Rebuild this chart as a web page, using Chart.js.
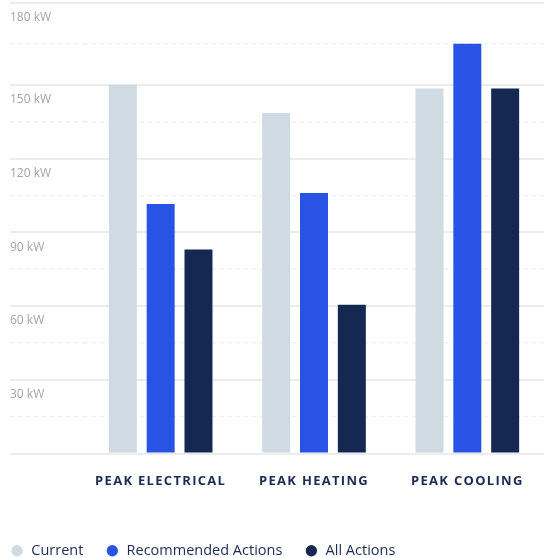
<!DOCTYPE html>
<html>
<head>
<meta charset="utf-8">
<script src="https://cdn.jsdelivr.net/npm/chart.js@4/dist/chart.umd.min.js"></script>
<style>
  html, body { margin: 0; padding: 0; background: #fff; }
  #wrap { width: 548px; height: 558px; }
</style>
</head>
<body>
<div id="wrap"><canvas id="peakChart" width="548" height="558"></canvas></div>
<script>
// chart data
const categories = ['PEAK ELECTRICAL', 'PEAK HEATING', 'PEAK COOLING'];
const currentValues = [150, 138.5, 148.5];
const recommendedValues = [101.5, 106, 166.7];
const allActionsValues = [83, 60.5, 148.5];

// y axis: solid lines with labels, dashed lines in between
const yMax = 183.3;
const tickValues = [0, 30, 60, 90, 120, 150, 183.3];
const tickLabels = ['', '30 kW', '60 kW', '90 kW', '120 kW', '150 kW', '180 kW'];
const minorValues = [15, 45, 75, 105, 135, 166.7];

const navy = '#1c2b55';

function isMinor(ctx) {
    return ctx.tick && minorValues.includes(ctx.tick.value);
}

// legend: a bit lower, and first item starts at the left edge
const legendFit = {
    id: 'legendFit',
    beforeInit(chart) {
        if (!chart.legend) return;
        const fit = chart.legend.fit;
        chart.legend.fit = function() {
            fit.call(this);
            this.height -= 10;
        };
    },
    afterLayout(chart) {
        if (!chart.legend) return;
        chart.legend.left -= 22;
        chart.legend.right -= 22;
    }
};

const ctx = document.getElementById('peakChart').getContext('2d');
const peakChart = new Chart(ctx, {
    type: 'bar',
    data: {
        labels: categories,
        datasets: [
            { label: 'Current', data: currentValues, backgroundColor: '#d0dae3' },
            { label: 'Recommended Actions', data: recommendedValues, backgroundColor: '#2953e5' },
            { label: 'All Actions', data: allActionsValues, backgroundColor: '#152852' }
        ]
    },
    options: {
        responsive: false,
        animation: false,
        devicePixelRatio: 1,
        layout: { padding: { left: 10, top: 3, right: 4, bottom: 0 } },
        datasets: {
            bar: { categoryPercentage: 0.74, barPercentage: 0.74, borderWidth: 0 }
        },
        scales: {
            x: {
                grid: { display: false, drawTicks: false },
                border: { display: false },
                ticks: {
                    color: navy,
                    padding: 20,
                    font: { family: '"Open Sans", sans-serif', size: 13, weight: 'bold' }
                },
                afterFit: function(scale) {
                    scale.height = 68;
                    // spaced-out category labels
                    if (!scale._spaced) {
                        const draw = scale.drawLabels;
                        scale.drawLabels = function(area) {
                            this.ctx.save();
                            this.ctx.letterSpacing = '1.3px';
                            draw.call(this, area);
                            this.ctx.restore();
                        };
                        scale._spaced = true;
                    }
                }
            },
            y: {
                min: 0,
                max: yMax,
                afterBuildTicks: function(axis) {
                    axis.ticks = tickValues.concat(minorValues)
                        .sort((a, b) => a - b)
                        .map(v => ({ value: v }));
                },
                afterFit: function(scale) {
                    scale.width = 74;
                },
                grid: {
                    color: c => isMinor(c) ? '#f1f1f1' : '#ececec',
                    lineWidth: c => isMinor(c) ? 1.5 : 2,
                    tickColor: c => isMinor(c) ? '#f1f1f1' : '#ececec',
                    tickWidth: c => isMinor(c) ? 1.5 : 2,
                    tickBorderDash: c => isMinor(c) ? [4, 4] : [],
                    tickLength: 74,
                    drawTicks: true
                },
                border: {
                    display: false,
                    dash: c => isMinor(c) ? [4, 4] : []
                },
                ticks: {
                    mirror: true,
                    padding: -74,
                    labelOffset: 15,
                    color: '#a4a4a4',
                    font: { family: '"Open Sans", sans-serif', size: 12 },
                    callback: function(value) {
                        const i = tickValues.indexOf(value);
                        return i >= 0 ? tickLabels[i] : '';
                    }
                }
            }
        },
        plugins: {
            legend: {
                position: 'bottom',
                align: 'start',
                labels: {
                    usePointStyle: true,
                    pointStyle: 'circle',
                    boxWidth: 14,
                    boxHeight: 8,
                    padding: 22,
                    color: navy,
                    font: { family: '"Open Sans", sans-serif', size: 14.5 }
                }
            },
            tooltip: { enabled: false }
        }
    },
    plugins: [legendFit]
});
</script>
</body>
</html>
